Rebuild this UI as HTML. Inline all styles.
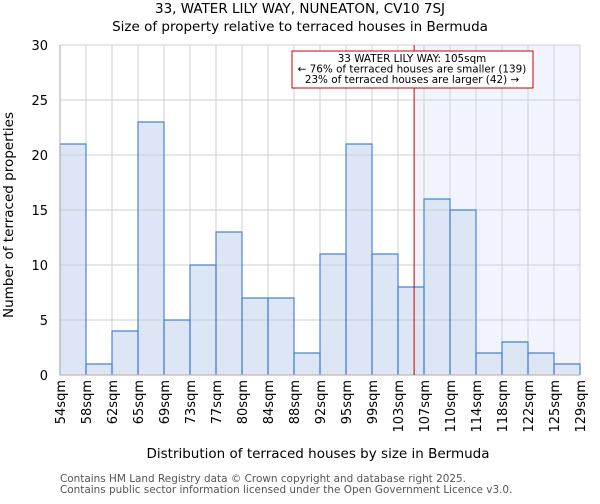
<!DOCTYPE html>
<html><head><meta charset="utf-8"><style>
body{margin:0;background:#fff;font-family:"DejaVu Sans","Liberation Sans",sans-serif}
</style></head><body>
<svg id="chart" width="600" height="500" xmlns="http://www.w3.org/2000/svg" font-family="DejaVu Sans, Liberation Sans, sans-serif">
<text x="300" y="13" text-anchor="middle" font-size="13.5">33, WATER LILY WAY, NUNEATON, CV10 7SJ</text>
<text x="300" y="31" text-anchor="middle" font-size="13.5">Size of property relative to terraced houses in Bermuda</text>
<g id="shade"></g><g id="bars"></g><g id="grid"></g><g id="axes"></g>
<text x="318" y="458" text-anchor="middle" font-size="13.5">Distribution of terraced houses by size in Bermuda</text>
<text transform="translate(13,215) rotate(-90)" text-anchor="middle" font-size="13.5">Number of terraced properties</text>
<text x="60" y="482" font-size="10.45" fill="#555">Contains HM Land Registry data © Crown copyright and database right 2025.</text>
<text x="60" y="493" font-size="10.45" fill="#555">Contains public sector information licensed under the Open Government Licence v3.0.</text>
</svg>
<script>
const categories=["54sqm","58sqm","62sqm","65sqm","69sqm","73sqm","77sqm","80sqm","84sqm","88sqm","92sqm","95sqm","99sqm","103sqm","107sqm","110sqm","114sqm","118sqm","122sqm","125sqm","129sqm"];
const counts=[21,1,4,23,5,10,13,7,7,2,11,21,11,8,16,15,2,3,2,1];
const yTicks=[0,5,10,15,20,25,30];
const markerBin=13.62;
const NS="http://www.w3.org/2000/svg";
const L=60,R=580,T=45,B=375,yMax=30;
const bw=(R-L)/counts.length;
const x=i=>L+i*bw, y=v=>B-(v/yMax)*(B-T);
function mk(tag,attrs,parent){const e=document.createElementNS(NS,tag);for(const k in attrs)e.setAttribute(k,attrs[k]);parent.appendChild(e);return e;}
const shade=document.getElementById('shade'),grid=document.getElementById('grid'),bars=document.getElementById('bars'),axes=document.getElementById('axes');
const mx=x(markerBin);
let sh=mk('rect',{x:mx,y:T,width:R-mx,height:B-T,fill:'#f1f4fc'},shade);


counts.forEach((v,i)=>{let r=mk('rect',{x:x(i),y:y(v),width:bw,height:B-y(v),fill:'#dde6f5'},bars);

});
for(let i=0;i<categories.length;i++){let g=mk('line',{x1:x(i),x2:x(i),y1:T,y2:B,stroke:'#cfcfcf','stroke-width':1},grid);

}
yTicks.forEach(t=>{let g=mk('line',{x1:L,x2:R,y1:y(t),y2:y(t),stroke:'#cfcfcf','stroke-width':1},grid);


let lb=mk('text',{x:L-12,y:y(t)+5,'text-anchor':'end','font-size':13},axes);lb.textContent=t;

});
counts.forEach((v,i)=>{let p=mk('path',{d:`M${x(i)},${B}V${y(v)}H${x(i)+bw}V${B}`,fill:'none',stroke:'#4a84d0','stroke-width':1.2},grid);

});
categories.forEach((c,i)=>{let t=mk('text',{transform:`translate(${x(i)+5},${B+5}) rotate(-90)`,'text-anchor':'end','font-size':13},axes);t.textContent=c;

});
let ax=mk('path',{d:`M${L},${T}V${B}H${R}`,fill:'none',stroke:'#bbb','stroke-width':1.2},axes);


let ml=mk('line',{x1:mx,x2:mx,y1:T,y2:B,stroke:'#cc0000','stroke-width':1},axes);


let box=mk('rect',{x:292,y:51,width:241,height:37,fill:'#fff',stroke:'#cc0000','stroke-width':1},axes);


["33 WATER LILY WAY: 105sqm","← 76% of terraced houses are smaller (139)","23% of terraced houses are larger (42) →"].forEach((s,i)=>{let t=mk('text',{x:412,y:62+i*10.5,'text-anchor':'middle','font-size':10.4},axes);t.textContent=s;

});
</script>
</body></html>
